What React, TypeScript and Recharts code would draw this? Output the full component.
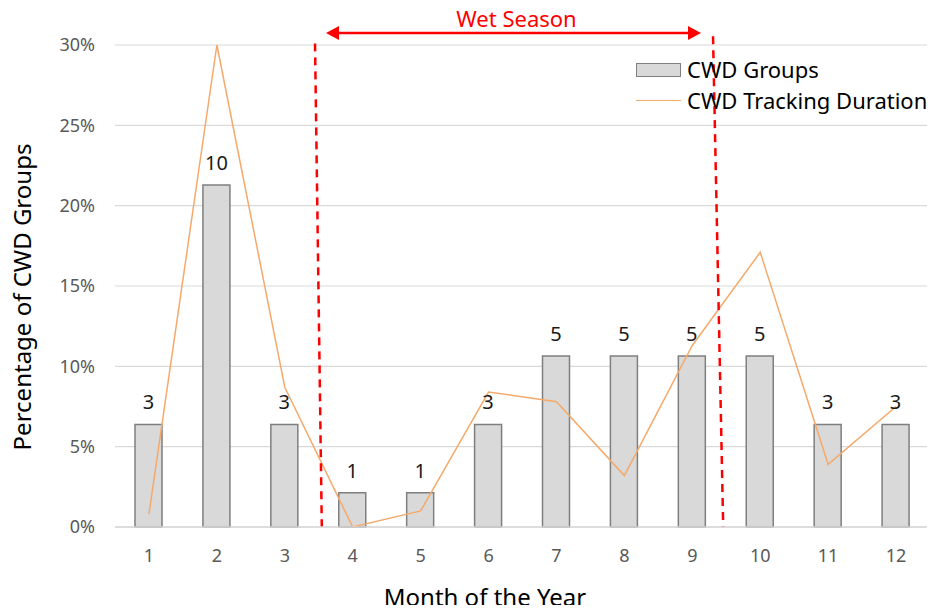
import React from "react";
import {
  ComposedChart,
  Bar,
  Line,
  XAxis,
  YAxis,
  CartesianGrid,
  LabelList,
  Legend,
  ReferenceLine,
} from "recharts";

const months = [1, 2, 3, 4, 5, 6, 7, 8, 9, 10, 11, 12];
const groupCounts = [3, 10, 3, 1, 1, 3, 5, 5, 5, 5, 3, 3];
const groupPct = [6.38, 21.28, 6.38, 2.13, 2.13, 6.38, 10.64, 10.64, 10.64, 10.64, 6.38, 6.38];
const durationPct = [0.8, 30, 8.7, 0, 1.0, 8.4, 7.8, 3.2, 11.3, 17.1, 3.9, 7.5];
const yTicks = [0, 5, 10, 15, 20, 25, 30];

const data = months.map((m, i) => ({
  month: m,
  groups: groupPct[i],
  count: groupCounts[i],
  duration: durationPct[i],
}));

const FONT = "'Noto Sans', 'Open Sans', sans-serif";
const RED = "#ff0000";

const WetArrow = (p: any) => {
  const { x1, y1, x2, y2 } = p;
  const h = 13;
  const w = 7;
  return (
    <g>
      <line x1={x1 + h} y1={y1} x2={x2 - h} y2={y2} stroke={RED} strokeWidth={2.5} />
      <polygon points={`${x1},${y1} ${x1 + h},${y1 - w} ${x1 + h},${y1 + w}`} fill={RED} />
      <polygon points={`${x2},${y2} ${x2 - h},${y2 - w} ${x2 - h},${y2 + w}`} fill={RED} />
      <text x={(x1 + x2) / 2 + 3} y={y1 - 6} textAnchor="middle" fill={RED} fontSize={22} fontFamily={FONT}>
        Wet Season
      </text>
    </g>
  );
};

const LegendBox = () => (
  <div style={{ fontFamily: FONT, fontSize: 22, color: "#000", lineHeight: "31px" }}>
    <div style={{ display: "flex", alignItems: "center" }}>
      <span
        style={{
          width: 45,
          height: 14,
          background: "#d9d9d9",
          border: "1.5px solid #808080",
          boxSizing: "border-box",
          marginRight: 6,
        }}
      />
      CWD Groups
    </div>
    <div style={{ display: "flex", alignItems: "center" }}>
      <span style={{ width: 45, height: 0, borderTop: "1.5px solid #f5a96b", marginRight: 6 }} />
      CWD Tracking Duration
    </div>
  </div>
);

export default function App() {
  return (
    <div style={{ position: "relative", width: 935, height: 613, margin: -8 }}>
      <ComposedChart
        width={935}
        height={613}
        data={data}
        margin={{ top: 45, right: 5, left: 0, bottom: 0 }}
        style={{ fontFamily: FONT }}
      >
        <CartesianGrid vertical={false} stroke="#d9d9d9" strokeWidth={1.2} />
        <XAxis
          dataKey="month"
          type="category"
          height={86}
          padding={{ left: 0, right: 0 }}
          axisLine={{ stroke: "#d9d9d9", strokeWidth: 1.5 }}
          tickLine={false}
          tickSize={0}
          tickMargin={22}
          tick={{ fill: "#595959", fontSize: 18, fontFamily: FONT }}
          label={{
            content: () => (
              <text x={485} y={606} textAnchor="middle" fontSize={24} fontFamily={FONT} fill="#000">
                Month of the Year
              </text>
            ),
          }}
        />
        <XAxis xAxisId="n" dataKey="month" type="number" domain={[0.5, 12.5]} hide allowDataOverflow />
        <YAxis
          width={115}
          domain={[0, 30]}
          ticks={yTicks}
          tickFormatter={(v: number) => `${v}%`}
          axisLine={false}
          tickLine={false}
          tickSize={0}
          tickMargin={20}
          tick={{ fill: "#595959", fontSize: 18, fontFamily: FONT }}
          label={{
            content: () => (
              <text
                x={21}
                y={297}
                transform="rotate(-90 21 297)"
                textAnchor="middle"
                dominantBaseline="central"
                fontSize={24}
                fontFamily={FONT}
                fill="#000"
              >
                Percentage of CWD Groups
              </text>
            ),
          }}
        />
        <Bar
          dataKey="groups"
          name="CWD Groups"
          fill="#d9d9d9"
          stroke="#7f7f7f"
          strokeWidth={1.5}
          barSize={27}
          isAnimationActive={false}
        >
          <LabelList dataKey="count" position="top" offset={15} fill="#1a1a1a" fontSize={20} fontFamily={FONT} />
        </Bar>
        <Line
          dataKey="duration"
          name="CWD Tracking Duration"
          type="linear"
          stroke="#f5a96b"
          strokeWidth={1.5}
          dot={false}
          activeDot={false}
          isAnimationActive={false}
        />
        <ReferenceLine
          xAxisId="n"
          ifOverflow="visible"
          segment={[{ x: 3.445, y: 30.1 }, { x: 3.545, y: 0 }]}
          stroke={RED}
          strokeWidth={2.5}
          strokeDasharray="8 6"
        />
        <ReferenceLine
          xAxisId="n"
          ifOverflow="visible"
          segment={[{ x: 9.305, y: 30.55 }, { x: 9.455, y: 0 }]}
          stroke={RED}
          strokeWidth={2.5}
          strokeDasharray="8 6"
        />
        <ReferenceLine
          xAxisId="n"
          ifOverflow="visible"
          segment={[{ x: 3.607, y: 30.75 }, { x: 9.128, y: 30.75 }]}
          shape={WetArrow}
        />
        <Legend
          layout="vertical"
          align="center"
          verticalAlign="middle"
          content={<LegendBox />}
          wrapperStyle={{ left: 636, top: 54, width: "auto" }}
        />
      </ComposedChart>
    </div>
  );
}
